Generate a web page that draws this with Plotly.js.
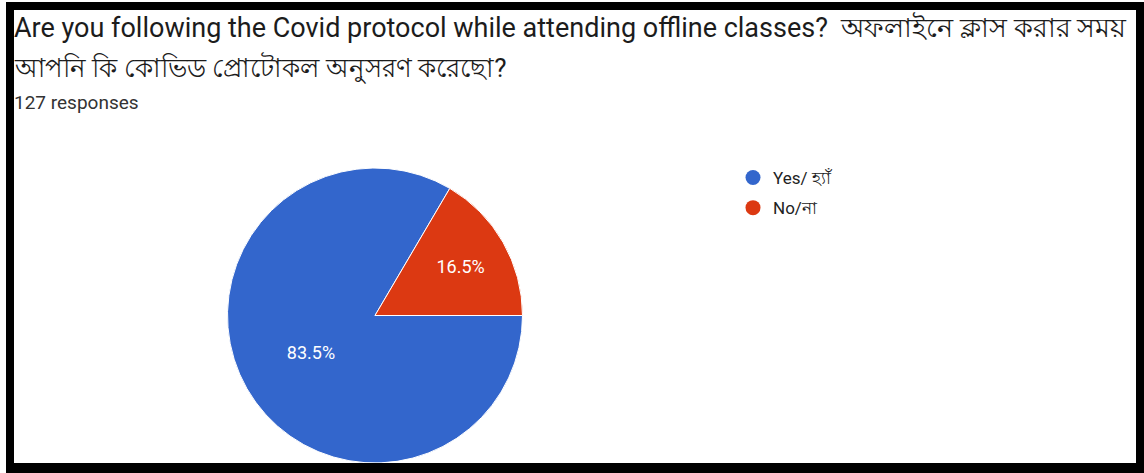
<!DOCTYPE html>
<html>
<head>
<meta charset="utf-8">
<script src="https://cdn.plot.ly/plotly-3.0.1.min.js"></script>
<style>
  html, body { margin: 0; padding: 0; background: #ffffff; width: 1144px; height: 473px; overflow: hidden; }
  #frame { position: absolute; left: 6px; top: 2px; width: 1122px; height: 453px;
           border-style: solid; border-color: #000; border-width: 8px 8px 10px 8px; background: #fff; overflow: hidden; }
  #chart { width: 1122px; height: 453px; }
</style>
</head>
<body>
<div id="frame"><div id="chart"></div></div>
<script>
const categories = ["Yes/ হ্যাঁ", "No/না"];
const counts = [106, 21];
const colors = ["#3366cc", "#dc3912"];
const titleEn = "Are you following the Covid protocol while attending offline classes?";
const titleBn1 = "অফলাইনে ক্লাস করার সময়";
const titleBn2 = "আপনি কি কোভিড প্রোটোকল অনুসরণ করেছো?";
const subtitle = "127 responses";

const FONT = "Roboto, 'Noto Sans', Arial, sans-serif";

const pie = {
  type: "pie",
  labels: categories,
  values: counts,
  marker: { colors: colors, line: { color: "#ffffff", width: 1 } },
  sort: false,
  direction: "clockwise",
  rotation: 90,
  textinfo: "percent",
  texttemplate: "%{percent:.1%}",
  textposition: "inside",
  insidetextorientation: "horizontal",
  insidetextfont: { color: "#ffffff", size: 18, family: FONT },
  hoverinfo: "label+value+percent",
  showlegend: false,
  domain: { x: [213/1122, 509/1122], y: [0, 295/453] }
};

const legendTraces = categories.map((c, i) => ({
  type: "scatter",
  mode: "markers",
  x: [null], y: [null],
  name: c,
  legendgroup: "g" + i,
  marker: { color: colors[i], size: 15, symbol: "circle" },
  showlegend: true,
  hoverinfo: "skip"
}));

const layout = {
  width: 1122, height: 453,
  margin: { l: 0, r: 0, t: 0, b: 0 },
  paper_bgcolor: "#ffffff",
  plot_bgcolor: "#ffffff",
  font: { family: FONT, color: "#222222" },
  xaxis: { visible: false },
  yaxis: { visible: false },
  showlegend: true,
  legend: {
    x: 719/1122, y: 1 - 150/453, xanchor: "left", yanchor: "top",
    font: { size: 17, color: "#222222", family: FONT },
    tracegroupgap: 5,
    bgcolor: "rgba(0,0,0,0)"
  },
  annotations: [
    { text: titleEn + "&nbsp; <span style='font-size:27px'>" + titleBn1 + "</span>",
      xref: "paper", yref: "paper", x: 0, y: 1 - 18/453, xshift: -2,
      xanchor: "left", yanchor: "middle", showarrow: false,
      font: { size: 27, color: "#1c1c1c", family: FONT } },
    { text: titleBn2, xref: "paper", yref: "paper", x: 0, y: 1 - 58/453, xshift: -2,
      xanchor: "left", yanchor: "middle", showarrow: false,
      font: { size: 26, color: "#1c1c1c", family: FONT } },
    { text: subtitle, xref: "paper", yref: "paper", x: 0, y: 1 - 93/453, xshift: -2,
      xanchor: "left", yanchor: "middle", showarrow: false,
      font: { size: 19, color: "#333333", family: FONT } }
  ]
};

Plotly.newPlot("chart", [pie].concat(legendTraces), layout, { displayModeBar: false, staticPlot: true });
</script>
</body>
</html>
